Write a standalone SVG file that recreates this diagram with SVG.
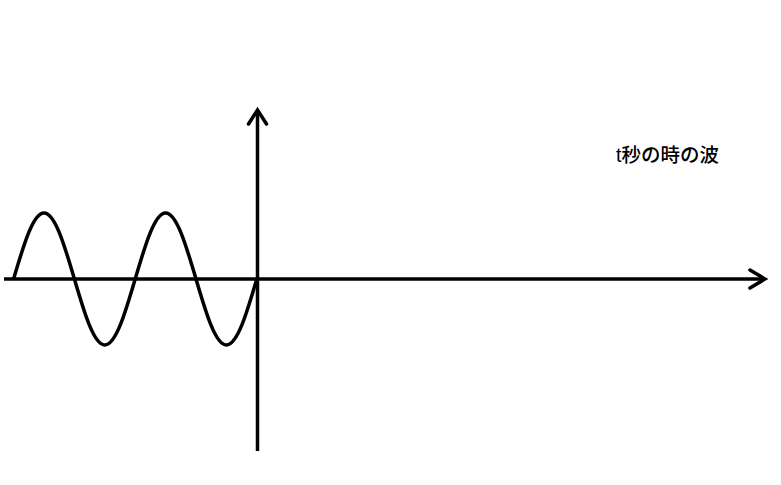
<svg xmlns="http://www.w3.org/2000/svg" width="781" height="485" viewBox="0 0 781 485">
<style>
.ln{fill:none;stroke:#000;stroke-width:3.5;stroke-linecap:butt;stroke-linejoin:round}
.hd{fill:none;stroke:#000;stroke-width:3.5;stroke-linecap:round;stroke-linejoin:miter}
.lbl{font-family:"Liberation Sans","Noto Sans CJK JP",sans-serif;font-size:19.5px;font-weight:500;fill:#000}
</style>
<rect width="781" height="485" fill="#fff"/>
<g id="axes">
<line class="ln" x1="4" y1="279" x2="765" y2="279"/>
<polyline class="hd" points="750,270 765,279 750,288"/>
<line class="ln" x1="257.5" y1="451" x2="257.5" y2="110"/>
<polyline class="hd" points="248.5,124 257.5,110 266.5,124"/>
</g>
<g id="wave">
<path class="ln" d="M13.6,279 c9.91,-33.8 19.4,-66 30.4,-66 c11,0 20.49,32.2 30.4,66 c9.91,33.8 19.4,66 30.4,66 c11,0 20.49,-32.2 30.4,-66 c9.91,-33.8 19.4,-66 30.4,-66 c11,0 20.49,32.2 30.4,66 c9.91,33.8 19.4,66 30.4,66 c11,0 20.49,-32.2 30.4,-66"/>
</g>
<g id="label">
<text class="lbl" x="616" y="162">t秒の時の波</text>
</g>
</svg>
